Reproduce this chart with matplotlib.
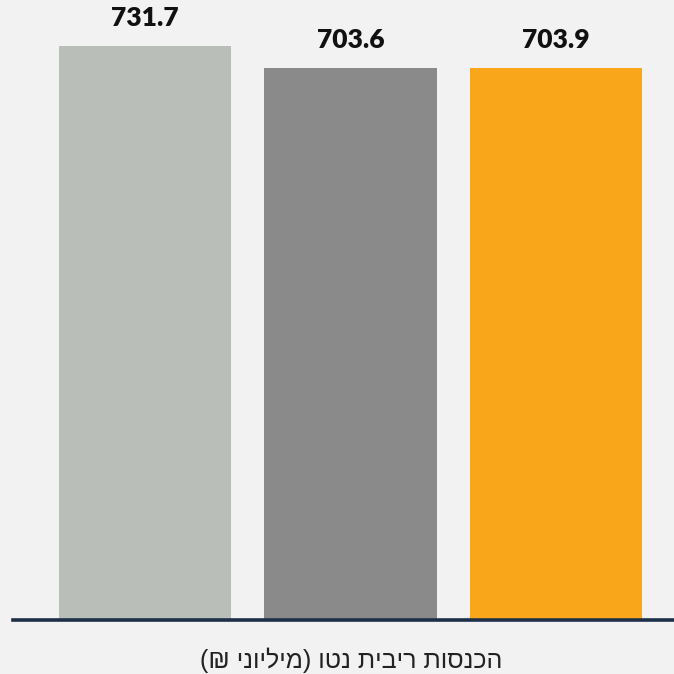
import matplotlib
matplotlib.use("Agg")
import matplotlib.pyplot as plt

categories = ["A", "B", "C"]
values = [731.7, 703.6, 703.9]
value_labels = ["731.7", "703.6", "703.9"]
colors = ["#B9BEB9", "#8A8A8A", "#F9A61B"]
axis_label = "הכנסות ריבית נטו (מיליוני ₪)"

def visual_rtl(s):
    return s[::-1].translate(str.maketrans("()", ")("))

bg = "#F2F2F2"
fig = plt.figure(figsize=(6.74, 6.74), dpi=100, facecolor=bg)
ax = fig.add_axes([13/674, (674-620)/674, 661/674, 620/674])
ax.set_facecolor(bg)

x = list(range(len(categories)))
bars = ax.bar(x, values, width=0.837, color=colors, zorder=1)

ax.set_xlim(-0.642, 2.574)
ax.set_ylim(0, 790.3)

for xi, v, lab in zip(x, values, value_labels):
    ax.annotate(lab, (xi, v), xytext=(0, 20.0), textcoords="offset points",
                ha="center", va="center", fontsize=19, fontweight="heavy",
                family=["Lato", "DejaVu Sans"], color="#111111")

for s in ["top", "right", "left"]:
    ax.spines[s].set_visible(False)
ax.spines["bottom"].set_color("#1d3048")
ax.spines["bottom"].set_linewidth(2.6)
ax.spines["bottom"].set_zorder(3)
ax.set_xticks([])
ax.set_yticks([])

fig.text(351/674, 1 - 660/674, visual_rtl(axis_label), ha="center", va="center",
         fontsize=18, family=["Liberation Sans", "DejaVu Sans"],
         color="#222222")

fig.savefig("out.png", dpi=100, facecolor=bg)
